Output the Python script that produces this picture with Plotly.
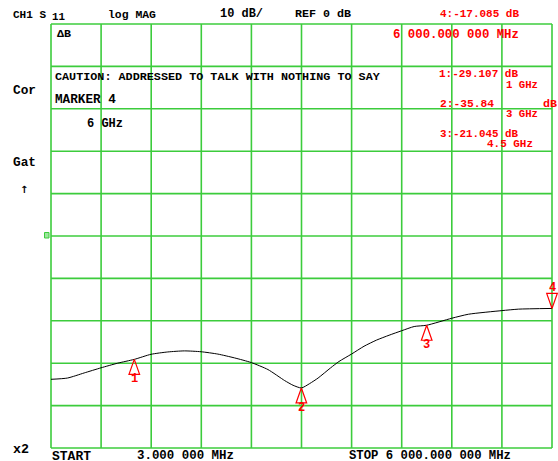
import plotly.graph_objects as go

# ---------------- data ----------------
freq_mhz = [3, 200, 400, 600, 800, 1000, 1200, 1400, 1600, 1800, 2000, 2200, 2400,
            2600, 2800, 2900, 3000, 3100, 3200, 3350, 3450, 3600, 3750, 3900, 4050,
            4200, 4350, 4500, 4800, 5000, 5400, 5600, 6000]
s11_db = [-33.8, -33.5, -32.3, -31.1, -30.0, -29.1, -27.9, -27.35, -27.1, -27.3, -27.85,
          -28.75, -29.85, -31.5, -34.1, -35.2, -35.84, -34.8, -33.5, -31.1, -29.6, -27.85,
          -26.0, -24.55, -23.4, -22.35, -21.35, -21.045, -19.4, -18.45, -17.6, -17.25, -17.085]

marker_ids = ["1", "2", "3", "4"]
marker_freq = [1000, 3000, 4500, 6000]
marker_db = [-29.107, -35.84, -21.045, -17.085]
marker_active = [False, False, False, True]

START, STOP = 3, 6000      # MHz
REF, SCALE = 0, 10         # dB, dB/div
NDIV = 10

# ---------------- geometry (pixels) ----------------
W, H = 558, 461
L, R, T, B = 51, 552, 24, 448   # graticule box
PAD = 2
mhz_px = (STOP - START) / (R - L)
db_px = SCALE * NDIV / (B - T)
top_db = REF + SCALE * NDIV / 2
bot_db = REF - SCALE * NDIV / 2
x_range = [START - PAD * mhz_px, START + (W - L) * mhz_px]
y_range = [bot_db - PAD * db_px, top_db + PAD * db_px]
pl, pt, pb = L - PAD, T - PAD, B + PAD


def pxx(x):
    return (x - pl) / (W - pl)


def pxy(y):
    return (pb - y) / (pb - pt)


GREEN = "rgb(60,204,60)"
RED = "#ff0000"
FONT = "Liberation Mono"

fig = go.Figure()

# graticule
shapes = []
for i in range(NDIV + 1):
    xv = START + i * (STOP - START) / NDIV
    shapes.append(dict(type="line", xref="x", yref="y", x0=xv, x1=xv, y0=bot_db, y1=top_db,
                       line=dict(color=GREEN, width=1.6), layer="below"))
for j in range(NDIV + 1):
    yv = bot_db + j * SCALE
    shapes.append(dict(type="line", xref="x", yref="y", x0=START, x1=STOP, y0=yv, y1=yv,
                       line=dict(color=GREEN, width=1.6), layer="below"))
# reference position indicator
shapes.append(dict(type="rect", xref="paper", yref="paper",
                   x0=pxx(44.5), x1=pxx(49), y0=pxy(238), y1=pxy(232.5),
                   line=dict(color=GREEN, width=1), fillcolor="rgba(60,204,60,0.5)"))

# trace
fig.add_trace(go.Scatter(x=freq_mhz, y=s11_db, mode="lines",
                         line=dict(color="black", width=1, shape="spline", smoothing=0.6),
                         hoverinfo="skip", showlegend=False))

# markers
dx = 5.3 * mhz_px
dy = 15 * db_px
ann = []
for mid, f, v, act in zip(marker_ids, marker_freq, marker_db, marker_active):
    sgn = 1 if act else -1
    fig.add_trace(go.Scatter(x=[f, f - dx, f + dx, f], y=[v, v + sgn * dy, v + sgn * dy, v],
                             mode="lines", line=dict(color=RED, width=1.2),
                             hoverinfo="skip", showlegend=False))
    ann.append(dict(x=f, y=v, xref="x", yref="y", text="<b>%s</b>" % mid, showarrow=False,
                    yshift=sgn * 20, font=dict(family=FONT, size=12, color=RED),
                    borderpad=0))

# texts: (text, left px, right px, centre y px, colour)
texts = [
    ("CH1 S", 13, 45, 15, "black"),
    ("11", 52, 64, 17.5, "black"),
    ("log MAG", 108, 155, 14.5, "black"),
    ("10 dB/", 220, 262, 14.5, "black"),
    ("REF 0 dB", 295, 350, 13.5, "black"),
    ("4:-17.085 dB", 440, 518, 13.5, RED),
    ("6 000.000 000 MHz", 393, 518, 35, RED),
    ("ΔB", 57, 70, 34, "black"),
    ("CAUTION: ADDRESSED TO TALK WITH NOTHING TO SAY", 55, 379, 77, "black"),
    ("MARKER 4", 55, 115, 99.5, "black"),
    ("6 GHz", 87, 122, 123.5, "black"),
    ("Cor", 13, 35, 90, "black"),
    ("Gat", 13, 35, 162, "black"),
    ("1:-29.107 dB", 439, 517, 73.5, RED),
    ("1 GHz", 506, 537, 84.5, RED),
    ("2:-35.84", 440, 493, 103.5, RED),
    ("dB", 543, 556, 103.5, RED),
    ("3 GHz", 506, 537, 114.5, RED),
    ("3:-21.045 dB", 440, 517, 133.5, RED),
    ("4.5 GHz", 487, 532, 143.5, RED),
    ("x2", 13, 28, 449, "black"),
    ("START", 52, 90, 456.5, "black"),
    ("3.000 000 MHz", 137, 233, 456.5, "black"),
    ("STOP 6 000.000 000 MHz", 349, 510, 456.5, "black"),
]
for txt, x0, x1, yc, col in texts:
    size = (x1 - x0 + 1) / (len(txt) * 0.6)
    ann.append(dict(x=pxx(x0), y=pxy(yc), xref="paper", yref="paper", xanchor="left",
                    yanchor="middle", text="<b>%s</b>" % txt, showarrow=False,
                    font=dict(family=FONT, size=size, color=col), borderpad=0, borderwidth=0))
ann.append(dict(x=pxx(24), y=pxy(189), xref="paper", yref="paper", xanchor="center",
                yanchor="middle", text="<b>↑</b>", showarrow=False,
                font=dict(family="DejaVu Sans", size=10, color="black"), borderpad=0))

fig.update_layout(
    width=W, height=H,
    margin=dict(l=pl, r=0, t=pt, b=H - pb, pad=0),
    paper_bgcolor="white", plot_bgcolor="white",
    xaxis=dict(range=x_range, visible=False, fixedrange=True),
    yaxis=dict(range=y_range, visible=False, fixedrange=True),
    shapes=shapes, annotations=ann, showlegend=False,
)

fig.write_html("out.html", config={"displayModeBar": False},
               post_script="document.body.style.margin='0';document.body.style.overflow='hidden';")
